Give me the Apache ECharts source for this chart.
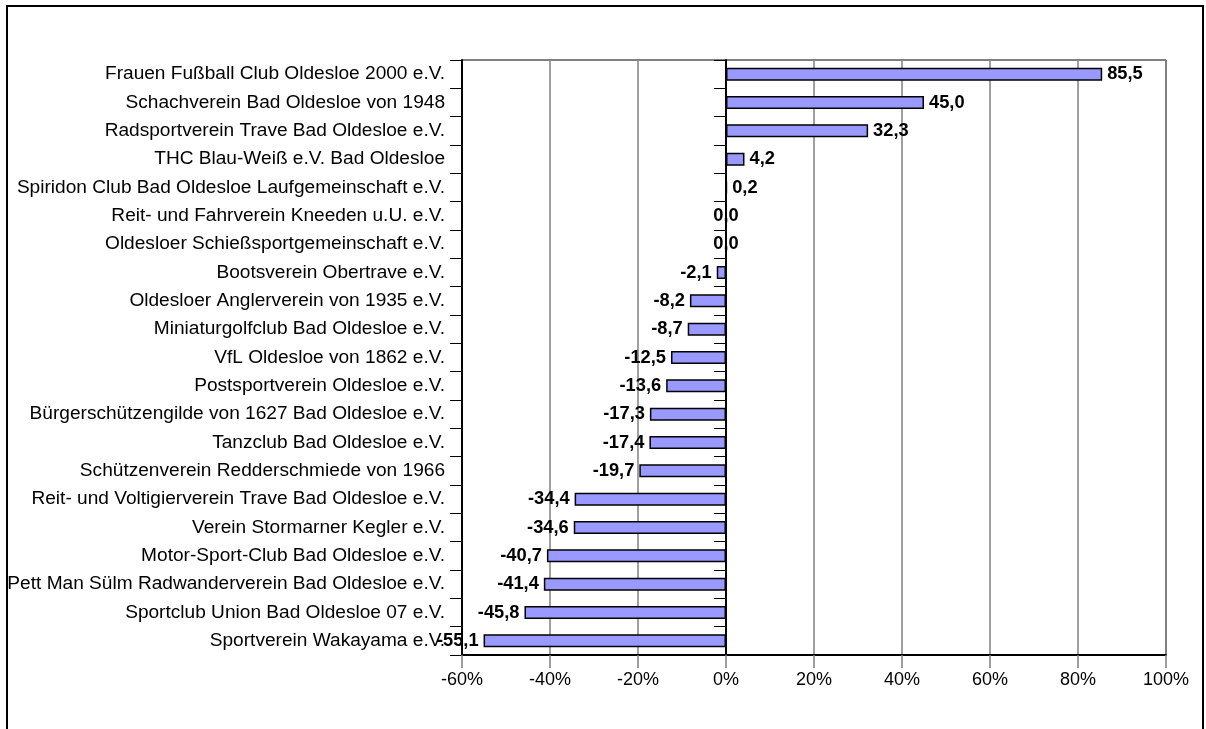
<!DOCTYPE html>
<html>
<head>
<meta charset="utf-8">
<script src="https://cdn.jsdelivr.net/npm/echarts@6/dist/echarts.min.js"></script>
<style>
html,body{margin:0;padding:0;background:#fff;}
#chart{width:1206px;height:729px;}
</style>
</head>
<body>
<div id="chart"></div>
<script>
const categories = [
  "Frauen Fußball Club Oldesloe 2000 e.V.",
  "Schachverein Bad Oldesloe von 1948",
  "Radsportverein Trave Bad Oldesloe e.V.",
  "THC Blau-Weiß e.V. Bad Oldesloe",
  "Spiridon Club Bad Oldesloe Laufgemeinschaft e.V.",
  "Reit- und Fahrverein Kneeden u.U. e.V.",
  "Oldesloer Schießsportgemeinschaft e.V.",
  "Bootsverein Obertrave e.V.",
  "Oldesloer Anglerverein von 1935 e.V.",
  "Miniaturgolfclub Bad Oldesloe e.V.",
  "VfL Oldesloe von 1862 e.V.",
  "Postsportverein Oldesloe e.V.",
  "Bürgerschützengilde von 1627 Bad Oldesloe e.V.",
  "Tanzclub Bad Oldesloe e.V.",
  "Schützenverein Redderschmiede von 1966",
  "Reit- und Voltigierverein Trave Bad Oldesloe e.V.",
  "Verein Stormarner Kegler e.V.",
  "Motor-Sport-Club Bad Oldesloe e.V.",
  "Pett Man Sülm Radwanderverein Bad Oldesloe e.V.",
  "Sportclub Union Bad Oldesloe 07 e.V.",
  "Sportverein Wakayama e.V."
];
const values = [85.5, 45.0, 32.3, 4.2, 0.2, 0.0, 0.0, -2.1, -8.2, -8.7, -12.5, -13.6, -17.3, -17.4, -19.7, -34.4, -34.6, -40.7, -41.4, -45.8, -55.1];
const xTicks = { min: -60, max: 100, interval: 20 };

const FONT = "'Liberation Sans', Arial, sans-serif";
const fmt = v => v.toFixed(1).replace('.', ',');

const seriesData = values.map(v => ({
  value: v,
  label: { position: v > 0 ? 'right' : (v < 0 ? 'left' : 'inside') }
}));

const chart = echarts.init(document.getElementById('chart'), null, { renderer: 'canvas' });
chart.setOption({
  animation: false,
  backgroundColor: '#ffffff',
  graphic: [{
    type: 'rect',
    shape: { x: 7, y: 6, width: 1196, height: 800 },
    style: { fill: 'none', stroke: '#000', lineWidth: 2 },
    silent: true
  }],
  grid: {
    left: 462, right: 40, top: 60, bottom: 74,
    show: true, borderColor: '#000', borderWidth: 1, backgroundColor: 'transparent'
  },
  xAxis: {
    type: 'value',
    min: xTicks.min, max: xTicks.max, interval: xTicks.interval,
    axisLine: { show: true, lineStyle: { color: '#000', width: 2 } },
    axisTick: { show: true, length: 13, lineStyle: { color: '#808080', width: 1.5 } },
    axisLabel: { formatter: '{value}%', fontFamily: FONT, fontSize: 18, color: '#000', margin: 16 },
    splitLine: { show: true, lineStyle: { color: '#808080', width: 1.5 } }
  },
  yAxis: [{
    type: 'category',
    data: categories,
    inverse: true,
    position: 'left',
    axisLine: { show: true, onZero: false, lineStyle: { color: '#000', width: 2 } },
    axisTick: { show: true, length: 12, lineStyle: { color: '#000', width: 1 } },
    axisLabel: { fontFamily: FONT, fontSize: 19.1, color: '#000', margin: 17, interval: 0 },
    splitLine: { show: false }
  }, {
    type: 'category',
    data: categories,
    inverse: true,
    position: 'left',
    axisLine: { show: true, onZero: true, lineStyle: { color: '#000', width: 2 } },
    axisTick: { show: true, length: 12, lineStyle: { color: '#000', width: 1 } },
    axisLabel: { show: false },
    splitLine: { show: false }
  }],
  series: [{
    type: 'bar',
    yAxisIndex: 0,
    data: seriesData,
    barWidth: 13,
    itemStyle: { color: '#9999FF', borderColor: '#000', borderWidth: 1.5 },
    label: {
      show: true,
      distance: 5,
      fontFamily: FONT,
      fontSize: 18.3,
      fontWeight: 'bold',
      color: '#000',
      formatter: p => fmt(p.value)
    },
    z: 3
  }]
});
</script>
</body>
</html>
